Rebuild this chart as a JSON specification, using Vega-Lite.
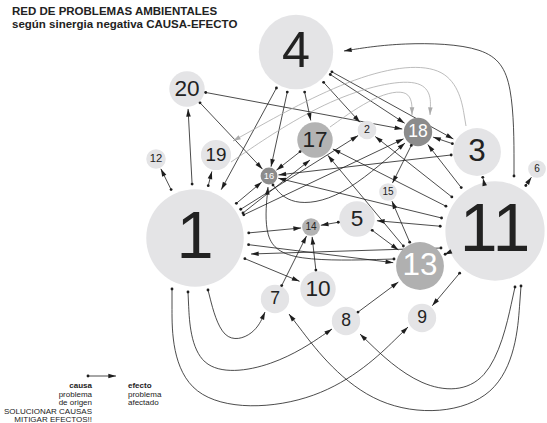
{
  "$schema": "https://vega.github.io/schema/vega-lite/v6.json",
  "width": 547,
  "height": 423,
  "autosize": {"type": "none"},
  "padding": 0,
  "background": "white",
  "config": {"view": {"stroke": null}, "font": "Liberation Sans"},
  "title": {
    "text": ["RED DE PROBLEMAS AMBIENTALES", "según sinergia negativa CAUSA-EFECTO"],
    "anchor": "start",
    "frame": "group",
    "orient": "top",
    "offset": -30,
    "dx": 12,
    "fontSize": 11.5,
    "lineHeight": 12.5,
    "font": "Liberation Sans",
    "fontWeight": "bold",
    "color": "#222222"
  },
  "datasets": {
    "nodes": [
      {"id": "1", "x": 195, "y": 238, "r": 55, "tono": "a"},
      {"id": "2", "x": 367, "y": 130, "r": 10.5, "tono": "a"},
      {"id": "3", "x": 477, "y": 152, "r": 27, "tono": "a"},
      {"id": "4", "x": 296, "y": 52, "r": 42, "tono": "a"},
      {"id": "5", "x": 357, "y": 219, "r": 20, "tono": "a"},
      {"id": "6", "x": 537, "y": 169, "r": 10, "tono": "a"},
      {"id": "7", "x": 275, "y": 299, "r": 16, "tono": "a"},
      {"id": "8", "x": 346, "y": 321, "r": 16, "tono": "a"},
      {"id": "9", "x": 422, "y": 318, "r": 16, "tono": "a"},
      {"id": "10", "x": 318, "y": 289, "r": 20, "tono": "a"},
      {"id": "11", "x": 495, "y": 231, "r": 56, "tono": "a"},
      {"id": "12", "x": 156, "y": 159, "r": 11, "tono": "a"},
      {"id": "13", "x": 420, "y": 266, "r": 27, "tono": "c"},
      {"id": "14", "x": 311, "y": 227, "r": 10, "tono": "b"},
      {"id": "15", "x": 388, "y": 192, "r": 10, "tono": "a"},
      {"id": "16", "x": 269, "y": 176, "r": 9.5, "tono": "d"},
      {"id": "17", "x": 315, "y": 140, "r": 20, "tono": "b"},
      {"id": "18", "x": 418, "y": 132, "r": 16, "tono": "d"},
      {"id": "19", "x": 216, "y": 155, "r": 17, "tono": "a"},
      {"id": "20", "x": 187, "y": 89, "r": 20, "tono": "a"},
      {"id": "Lc", "x": 88, "y": 376, "r": 0, "tono": "x"},
      {"id": "Le", "x": 116, "y": 376, "r": 0, "tono": "x"}
    ],
    "edges": [
      {"de": "4", "a": "1"}, {"de": "4", "a": "16"}, {"de": "4", "a": "17"},
      {"de": "4", "a": "2"}, {"de": "4", "a": "18"}, {"de": "4", "a": "3"},
      {"de": "20", "a": "18"}, {"de": "20", "a": "16"},
      {"de": "1", "a": "20"}, {"de": "1", "a": "12"}, {"de": "1", "a": "19"},
      {"de": "1", "a": "16"}, {"de": "1", "a": "2"}, {"de": "1", "a": "18"},
      {"de": "1", "a": "14"}, {"de": "1", "a": "13"}, {"de": "1", "a": "10"},
      {"de": "11", "a": "3"}, {"de": "11", "a": "6"}, {"de": "11", "a": "18"},
      {"de": "11", "a": "2"}, {"de": "11", "a": "17"}, {"de": "11", "a": "16"},
      {"de": "11", "a": "5"}, {"de": "11", "a": "13"}, {"de": "11", "a": "9"},
      {"de": "3", "a": "16"}, {"de": "3", "a": "18"},
      {"de": "5", "a": "14"}, {"de": "5", "a": "13"},
      {"de": "13", "a": "17"}, {"de": "13", "a": "15"},
      {"de": "18", "a": "15"}, {"de": "17", "a": "16"},
      {"de": "7", "a": "14"}, {"de": "10", "a": "14"}, {"de": "8", "a": "13"},
      {"de": "Lc", "a": "Le"}
    ],
    "curvas": [
      {"c": "c1", "o": 0, "x": 514, "y": 176, "tipo": "negra"},
      {"c": "c1", "o": 1, "x": 514, "y": 80, "tipo": "negra"},
      {"c": "c1", "o": 2, "x": 490, "y": 45, "tipo": "negra"},
      {"c": "c1", "o": 3, "x": 400, "y": 42, "tipo": "negra"},
      {"c": "c1", "o": 4, "x": 344, "y": 51, "tipo": "negra"},
      {"c": "c2", "o": 0, "x": 394, "y": 259, "tipo": "negra"},
      {"c": "c2", "o": 1, "x": 290, "y": 262, "tipo": "negra"},
      {"c": "c2", "o": 2, "x": 263, "y": 240, "tipo": "negra"},
      {"c": "c2", "o": 3, "x": 268, "y": 187, "tipo": "negra"},
      {"c": "c3", "o": 0, "x": 273, "y": 185, "tipo": "negra"},
      {"c": "c3", "o": 1, "x": 290, "y": 206, "tipo": "negra"},
      {"c": "c3", "o": 2, "x": 340, "y": 200, "tipo": "negra"},
      {"c": "c3", "o": 3, "x": 405, "y": 143, "tipo": "negra"},
      {"c": "c4", "o": 0, "x": 208, "y": 290, "tipo": "negra"},
      {"c": "c4", "o": 1, "x": 222, "y": 345, "tipo": "negra"},
      {"c": "c4", "o": 2, "x": 255, "y": 335, "tipo": "negra"},
      {"c": "c4", "o": 3, "x": 265, "y": 312, "tipo": "negra"},
      {"c": "c5", "o": 0, "x": 188, "y": 292, "tipo": "negra"},
      {"c": "c5", "o": 1, "x": 192, "y": 378, "tipo": "negra"},
      {"c": "c5", "o": 2, "x": 275, "y": 368, "tipo": "negra"},
      {"c": "c5", "o": 3, "x": 332, "y": 329, "tipo": "negra"},
      {"c": "c6", "o": 0, "x": 172, "y": 289, "tipo": "negra"},
      {"c": "c6", "o": 1, "x": 172, "y": 412, "tipo": "negra"},
      {"c": "c6", "o": 2, "x": 325, "y": 408, "tipo": "negra"},
      {"c": "c6", "o": 3, "x": 408, "y": 327, "tipo": "negra"},
      {"c": "c7", "o": 0, "x": 521, "y": 286, "tipo": "negra"},
      {"c": "c7", "o": 1, "x": 512, "y": 410, "tipo": "negra"},
      {"c": "c7", "o": 2, "x": 370, "y": 420, "tipo": "negra"},
      {"c": "c7", "o": 3, "x": 289, "y": 314, "tipo": "negra"},
      {"c": "c8", "o": 0, "x": 515, "y": 287, "tipo": "negra"},
      {"c": "c8", "o": 1, "x": 492, "y": 392, "tipo": "negra"},
      {"c": "c8", "o": 2, "x": 420, "y": 392, "tipo": "negra"},
      {"c": "c8", "o": 3, "x": 360, "y": 334, "tipo": "negra"},
      {"c": "c9", "o": 0, "x": 441, "y": 248, "tipo": "negra"},
      {"c": "c9", "o": 1, "x": 251, "y": 254, "tipo": "negra"},
      {"c": "c10", "o": 0, "x": 243, "y": 213, "tipo": "negra"},
      {"c": "c10", "o": 1, "x": 310, "y": 160, "tipo": "negra"},
      {"c": "g1", "o": 0, "x": 466, "y": 126, "tipo": "gris"},
      {"c": "g1", "o": 1, "x": 455, "y": 60, "tipo": "gris"},
      {"c": "g1", "o": 2, "x": 360, "y": 70, "tipo": "gris"},
      {"c": "g1", "o": 3, "x": 233, "y": 141, "tipo": "gris"},
      {"c": "g2", "o": 0, "x": 231, "y": 162, "tipo": "gris"},
      {"c": "g2", "o": 1, "x": 330, "y": 95, "tipo": "gris"},
      {"c": "g2", "o": 2, "x": 432, "y": 72, "tipo": "gris"},
      {"c": "g2", "o": 3, "x": 430, "y": 115, "tipo": "gris"},
      {"c": "g3", "o": 0, "x": 330, "y": 127, "tipo": "gris"},
      {"c": "g3", "o": 1, "x": 375, "y": 95, "tipo": "gris"},
      {"c": "g3", "o": 2, "x": 412, "y": 88, "tipo": "gris"},
      {"c": "g3", "o": 3, "x": 412, "y": 115, "tipo": "gris"}
    ],
    "leyenda": [
      {"t": "causa", "x": 92, "y": 388, "g": "izq-b"},
      {"t": "problema", "x": 92, "y": 396.5, "g": "izq"},
      {"t": "de origen", "x": 92, "y": 405, "g": "izq"},
      {"t": "SOLUCIONAR CAUSAS", "x": 92, "y": 413.5, "g": "izq"},
      {"t": "MITIGAR EFECTOS!!", "x": 92, "y": 422, "g": "izq"},
      {"t": "efecto", "x": 128, "y": 388, "g": "der-b"},
      {"t": "problema", "x": 128, "y": 396.5, "g": "der"},
      {"t": "afectado", "x": 128, "y": 405, "g": "der"}
    ]
  },
  "resolve": {"scale": {"size": "independent", "color": "independent"}},
  "layer": [
    {
      "data": {"name": "edges"},
      "transform": [
        {"lookup": "de", "from": {"data": {"name": "nodes"}, "key": "id", "fields": ["x", "y", "r"]}, "as": ["x1", "y1", "r1"]},
        {"lookup": "a", "from": {"data": {"name": "nodes"}, "key": "id", "fields": ["x", "y", "r"]}, "as": ["x2", "y2", "r2"]},
        {"calculate": "sqrt((datum.x2-datum.x1)*(datum.x2-datum.x1)+(datum.y2-datum.y1)*(datum.y2-datum.y1))", "as": "d"},
        {"calculate": "(datum.x2-datum.x1)/datum.d", "as": "ux"},
        {"calculate": "(datum.y2-datum.y1)/datum.d", "as": "uy"},
        {"calculate": "datum.x1+datum.ux*max(datum.r1-1,0)", "as": "sx"},
        {"calculate": "datum.y1+datum.uy*max(datum.r1-1,0)", "as": "sy"},
        {"calculate": "datum.x2-datum.ux*datum.r2", "as": "ex"},
        {"calculate": "datum.y2-datum.uy*datum.r2", "as": "ey"}
      ],
      "mark": {"type": "rule", "color": "#1e1e1e", "strokeWidth": 0.8},
      "encoding": {
        "x": {"field": "sx", "type": "quantitative", "scale": {"domain": [0, 547]}, "axis": null},
        "y": {"field": "sy", "type": "quantitative", "scale": {"domain": [0, 423], "reverse": true}, "axis": null},
        "x2": {"field": "ex"},
        "y2": {"field": "ey"}
      }
    },
    {
      "data": {"name": "curvas"},
      "mark": {"type": "line", "interpolate": "basis", "strokeWidth": 0.8},
      "encoding": {
        "x": {"field": "x", "type": "quantitative", "scale": {"domain": [0, 547]}, "axis": null},
        "y": {"field": "y", "type": "quantitative", "scale": {"domain": [0, 423], "reverse": true}, "axis": null},
        "detail": {"field": "c"},
        "order": {"field": "o"},
        "color": {"condition": {"test": "datum.tipo=='gris'", "value": "#ababab"}, "value": "#1e1e1e"}
      }
    },
    {
      "data": {"name": "nodes"},
      "transform": [
        {"filter": "datum.r>0"},
        {"calculate": "PI*datum.r*datum.r", "as": "area"}
      ],
      "mark": {"type": "point", "shape": "circle", "filled": true, "opacity": 1, "strokeWidth": 0},
      "encoding": {
        "x": {"field": "x", "type": "quantitative", "scale": {"domain": [0, 547]}, "axis": null},
        "y": {"field": "y", "type": "quantitative", "scale": {"domain": [0, 423], "reverse": true}, "axis": null},
        "size": {"field": "area", "type": "quantitative", "scale": null},
        "color": {
          "condition": [
            {"test": "datum.tono=='b'", "value": "#b3b3b3"},
            {"test": "datum.tono=='c'", "value": "#b0b0b0"},
            {"test": "datum.tono=='d'", "value": "#8c8c8c"}
          ],
          "value": "#e4e4e6"
        }
      }
    },
    {
      "data": {"name": "nodes"},
      "transform": [{"filter": "datum.r>0"}],
      "mark": {"type": "text", "align": "center", "baseline": "middle", "font": "Liberation Sans"},
      "encoding": {
        "x": {"field": "x", "type": "quantitative", "scale": {"domain": [0, 547]}, "axis": null},
        "y": {"field": "y", "type": "quantitative", "scale": {"domain": [0, 423], "reverse": true}, "axis": null},
        "text": {"field": "id"},
        "size": {"field": "r", "type": "quantitative", "scale": {"domain": [10, 56], "range": [10, 68]}, "legend": null},
        "color": {"condition": {"test": "datum.tono=='c'||datum.tono=='d'", "value": "#ffffff"}, "value": "#222222"}
      }
    },
    {
      "data": {"name": "edges"},
      "transform": [
        {"lookup": "de", "from": {"data": {"name": "nodes"}, "key": "id", "fields": ["x", "y", "r"]}, "as": ["x1", "y1", "r1"]},
        {"lookup": "a", "from": {"data": {"name": "nodes"}, "key": "id", "fields": ["x", "y", "r"]}, "as": ["x2", "y2", "r2"]},
        {"calculate": "sqrt((datum.x2-datum.x1)*(datum.x2-datum.x1)+(datum.y2-datum.y1)*(datum.y2-datum.y1))", "as": "d"},
        {"calculate": "(datum.x2-datum.x1)/datum.d", "as": "ux"},
        {"calculate": "(datum.y2-datum.y1)/datum.d", "as": "uy"},
        {"calculate": "datum.x1+datum.ux*max(datum.r1-1,0)", "as": "sx"},
        {"calculate": "datum.y1+datum.uy*max(datum.r1-1,0)", "as": "sy"},
        {"calculate": "datum.x2-datum.ux*(datum.r2+3.8)", "as": "ax"},
        {"calculate": "datum.y2-datum.uy*(datum.r2+3.8)", "as": "ay"},
        {"calculate": "atan2(datum.ux,-datum.uy)*180/PI", "as": "ang"}
      ],
      "layer": [
        {
          "mark": {"type": "point", "shape": "M0,-1L0.6,1L-0.6,1Z", "filled": true, "opacity": 1, "size": 60, "color": "#1e1e1e", "strokeWidth": 0},
          "encoding": {
            "x": {"field": "ax", "type": "quantitative", "scale": {"domain": [0, 547]}, "axis": null},
            "y": {"field": "ay", "type": "quantitative", "scale": {"domain": [0, 423], "reverse": true}, "axis": null},
            "angle": {"field": "ang", "type": "quantitative", "scale": null}
          }
        },
        {
          "mark": {"type": "point", "shape": "circle", "filled": true, "opacity": 1, "size": 8, "color": "#1e1e1e", "strokeWidth": 0},
          "encoding": {
            "x": {"field": "sx", "type": "quantitative", "scale": {"domain": [0, 547]}, "axis": null},
            "y": {"field": "sy", "type": "quantitative", "scale": {"domain": [0, 423], "reverse": true}, "axis": null}
          }
        }
      ]
    },
    {
      "data": {"name": "curvas"},
      "layer": [
        {
          "transform": [
            {"window": [{"op": "lag", "field": "x", "as": "px"}, {"op": "lag", "field": "y", "as": "py"}], "groupby": ["c"], "sort": [{"field": "o", "order": "ascending"}]},
            {"joinaggregate": [{"op": "max", "field": "o", "as": "om"}], "groupby": ["c"]},
            {"filter": "datum.o==datum.om"},
            {"calculate": "sqrt((datum.x-datum.px)*(datum.x-datum.px)+(datum.y-datum.py)*(datum.y-datum.py))", "as": "d"},
            {"calculate": "(datum.x-datum.px)/datum.d", "as": "ux"},
            {"calculate": "(datum.y-datum.py)/datum.d", "as": "uy"},
            {"calculate": "datum.x-datum.ux*3.8", "as": "ax"},
            {"calculate": "datum.y-datum.uy*3.8", "as": "ay"},
            {"calculate": "atan2(datum.ux,-datum.uy)*180/PI", "as": "ang"}
          ],
          "mark": {"type": "point", "shape": "M0,-1L0.6,1L-0.6,1Z", "filled": true, "opacity": 1, "size": 60, "strokeWidth": 0},
          "encoding": {
            "x": {"field": "ax", "type": "quantitative", "scale": {"domain": [0, 547]}, "axis": null},
            "y": {"field": "ay", "type": "quantitative", "scale": {"domain": [0, 423], "reverse": true}, "axis": null},
            "angle": {"field": "ang", "type": "quantitative", "scale": null},
            "color": {"condition": {"test": "datum.tipo=='gris'", "value": "#ababab"}, "value": "#1e1e1e"}
          }
        },
        {
          "transform": [{"filter": "datum.o==0 && datum.tipo=='negra'"}],
          "mark": {"type": "point", "shape": "circle", "filled": true, "opacity": 1, "size": 8, "color": "#1e1e1e", "strokeWidth": 0},
          "encoding": {
            "x": {"field": "x", "type": "quantitative", "scale": {"domain": [0, 547]}, "axis": null},
            "y": {"field": "y", "type": "quantitative", "scale": {"domain": [0, 423], "reverse": true}, "axis": null}
          }
        }
      ]
    },
    {
      "data": {"name": "leyenda"},
      "layer": [
        {
          "transform": [{"filter": "datum.g=='izq-b'"}],
          "mark": {"type": "text", "align": "right", "baseline": "alphabetic", "fontSize": 8, "fontWeight": "bold", "color": "#222222"},
          "encoding": {
            "x": {"field": "x", "type": "quantitative", "scale": {"domain": [0, 547]}, "axis": null},
            "y": {"field": "y", "type": "quantitative", "scale": {"domain": [0, 423], "reverse": true}, "axis": null},
            "text": {"field": "t"}
          }
        },
        {
          "transform": [{"filter": "datum.g=='izq'"}],
          "mark": {"type": "text", "align": "right", "baseline": "alphabetic", "fontSize": 8, "color": "#222222"},
          "encoding": {
            "x": {"field": "x", "type": "quantitative", "scale": {"domain": [0, 547]}, "axis": null},
            "y": {"field": "y", "type": "quantitative", "scale": {"domain": [0, 423], "reverse": true}, "axis": null},
            "text": {"field": "t"}
          }
        },
        {
          "transform": [{"filter": "datum.g=='der-b'"}],
          "mark": {"type": "text", "align": "left", "baseline": "alphabetic", "fontSize": 8, "fontWeight": "bold", "color": "#222222"},
          "encoding": {
            "x": {"field": "x", "type": "quantitative", "scale": {"domain": [0, 547]}, "axis": null},
            "y": {"field": "y", "type": "quantitative", "scale": {"domain": [0, 423], "reverse": true}, "axis": null},
            "text": {"field": "t"}
          }
        },
        {
          "transform": [{"filter": "datum.g=='der'"}],
          "mark": {"type": "text", "align": "left", "baseline": "alphabetic", "fontSize": 8, "color": "#222222"},
          "encoding": {
            "x": {"field": "x", "type": "quantitative", "scale": {"domain": [0, 547]}, "axis": null},
            "y": {"field": "y", "type": "quantitative", "scale": {"domain": [0, 423], "reverse": true}, "axis": null},
            "text": {"field": "t"}
          }
        }
      ]
    }
  ]
}
